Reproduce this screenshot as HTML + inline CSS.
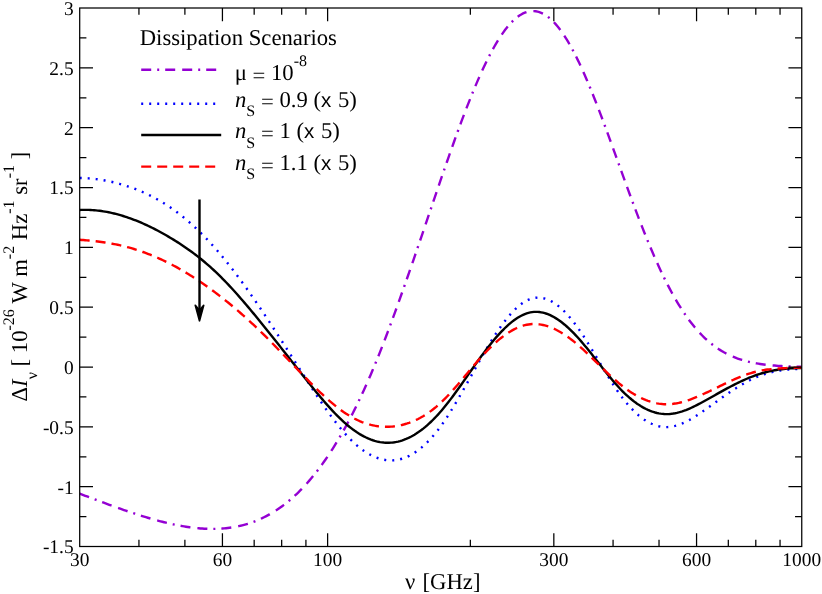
<!DOCTYPE html>
<html><head><meta charset="utf-8">
<style>
html,body{margin:0;padding:0;background:#fff;}
svg{display:block;will-change:transform;text-rendering:geometricPrecision;font-family:"Liberation Serif",serif;}
.tk text{font-size:19.4px;fill:#000;}
.lb{font-size:22.7px;fill:#000;}
.sans{font-family:"Liberation Sans",sans-serif;}
</style></head><body>
<svg width="822" height="594" viewBox="0 0 822 594">
<rect width="822" height="594" fill="#fff"/>
<defs><clipPath id="c"><rect x="79.7" y="8.0" width="722.05" height="538.5"/></clipPath></defs>
<g clip-path="url(#c)" fill="none" stroke-width="2.4">
<path d="M79.70,493.67 L81.56,494.37 L83.41,495.08 L85.27,495.79 L87.12,496.49 L88.97,497.19 L90.82,497.89 L92.67,498.59 L94.52,499.29 L96.37,499.98 L98.21,500.67 L100.06,501.36 L101.90,502.05 L103.74,502.73 L105.59,503.42 L107.43,504.09 L109.27,504.77 L111.11,505.44 L112.94,506.10 L114.78,506.77 L116.62,507.42 L118.45,508.08 L120.29,508.73 L122.12,509.37 L123.96,510.01 L125.79,510.64 L127.62,511.27 L129.45,511.89 L131.28,512.51 L133.11,513.12 L134.94,513.72 L136.77,514.32 L138.60,514.90 L140.43,515.49 L142.25,516.06 L144.08,516.63 L145.91,517.18 L147.73,517.73 L149.56,518.27 L151.38,518.80 L153.21,519.33 L155.03,519.84 L156.85,520.34 L158.68,520.83 L160.50,521.31 L162.32,521.78 L164.14,522.24 L165.97,522.69 L167.79,523.12 L169.61,523.55 L171.43,523.96 L173.25,524.35 L175.07,524.74 L176.89,525.10 L178.71,525.46 L180.53,525.80 L182.34,526.12 L184.16,526.43 L185.98,526.73 L187.80,527.00 L189.62,527.26 L191.43,527.50 L193.25,527.73 L195.07,527.94 L196.89,528.13 L198.70,528.29 L200.52,528.44 L202.33,528.57 L204.15,528.68 L205.97,528.77 L207.78,528.84 L209.60,528.88 L211.41,528.90 L213.23,528.90 L215.04,528.88 L216.86,528.83 L218.67,528.76 L220.49,528.66 L222.30,528.54 L224.11,528.39 L225.93,528.21 L227.74,528.01 L229.56,527.78 L231.37,527.52 L233.18,527.23 L235.00,526.91 L236.81,526.56 L238.62,526.18 L240.44,525.77 L242.25,525.32 L244.06,524.85 L245.88,524.34 L247.69,523.80 L249.50,523.22 L251.31,522.61 L253.13,521.96 L254.94,521.27 L256.75,520.55 L258.56,519.79 L260.37,518.99 L262.19,518.16 L264.00,517.28 L265.81,516.37 L267.62,515.41 L269.43,514.41 L271.25,513.37 L273.06,512.29 L274.87,511.16 L276.68,509.99 L278.49,508.77 L280.30,507.51 L282.11,506.20 L283.93,504.85 L285.74,503.45 L287.55,502.00 L289.36,500.50 L291.17,498.96 L292.98,497.36 L294.79,495.71 L296.60,494.02 L298.41,492.27 L300.22,490.47 L302.04,488.61 L303.85,486.71 L305.66,484.75 L307.47,482.73 L309.28,480.66 L311.09,478.53 L312.90,476.35 L314.71,474.12 L316.52,471.82 L318.33,469.47 L320.14,467.06 L321.95,464.59 L323.76,462.07 L325.57,459.48 L327.37,456.84 L329.18,454.13 L330.99,451.37 L332.80,448.54 L334.61,445.66 L336.41,442.71 L338.22,439.71 L340.03,436.64 L341.83,433.51 L343.64,430.32 L345.44,427.07 L347.24,423.76 L349.04,420.38 L350.84,416.95 L352.64,413.45 L354.44,409.90 L356.23,406.28 L358.02,402.60 L359.82,398.86 L361.60,395.06 L363.39,391.19 L365.17,387.27 L366.95,383.29 L368.72,379.26 L370.49,375.16 L372.26,371.01 L374.03,366.80 L375.79,362.53 L377.55,358.20 L379.30,353.83 L381.06,349.40 L382.81,344.91 L384.56,340.37 L386.31,335.79 L388.06,331.15 L389.81,326.46 L391.56,321.73 L393.32,316.95 L395.07,312.13 L396.83,307.26 L398.60,302.35 L400.36,297.40 L402.13,292.41 L403.91,287.39 L405.68,282.33 L407.46,277.23 L409.25,272.11 L411.03,266.96 L412.82,261.78 L414.61,256.57 L416.40,251.34 L418.20,246.09 L420.00,240.83 L421.80,235.55 L423.60,230.25 L425.40,224.94 L427.20,219.63 L429.00,214.31 L430.81,208.99 L432.61,203.67 L434.42,198.35 L436.22,193.04 L438.03,187.74 L439.84,182.45 L441.64,177.18 L443.45,171.93 L445.26,166.70 L447.07,161.49 L448.88,156.32 L450.68,151.17 L452.49,146.06 L454.30,141.00 L456.11,135.97 L457.92,131.00 L459.73,126.07 L461.54,121.20 L463.35,116.38 L465.16,111.63 L466.97,106.94 L468.78,102.32 L470.59,97.77 L472.39,93.30 L474.20,88.91 L476.01,84.61 L477.82,80.39 L479.63,76.26 L481.44,72.23 L483.25,68.30 L485.06,64.47 L486.87,60.75 L488.68,57.13 L490.49,53.63 L492.30,50.25 L494.11,46.98 L495.92,43.84 L497.73,40.83 L499.54,37.94 L501.35,35.19 L503.16,32.57 L504.97,30.09 L506.78,27.75 L508.59,25.56 L510.40,23.51 L512.21,21.61 L514.02,19.86 L515.83,18.27 L517.64,16.83 L519.44,15.54 L521.25,14.42 L523.06,13.45 L524.87,12.65 L526.68,12.01 L528.49,11.53 L530.30,11.22 L532.11,11.07 L533.92,11.09 L535.73,11.28 L537.54,11.63 L539.35,12.14 L541.16,12.83 L542.97,13.67 L544.78,14.69 L546.59,15.86 L548.40,17.20 L550.21,18.70 L552.02,20.36 L553.83,22.18 L555.64,24.15 L557.45,26.28 L559.26,28.56 L561.07,30.99 L562.88,33.57 L564.69,36.29 L566.50,39.15 L568.31,42.15 L570.11,45.29 L571.92,48.55 L573.73,51.94 L575.54,55.46 L577.35,59.09 L579.16,62.84 L580.97,66.70 L582.78,70.67 L584.59,74.74 L586.40,78.90 L588.21,83.16 L590.02,87.50 L591.83,91.93 L593.64,96.43 L595.45,101.01 L597.26,105.65 L599.07,110.35 L600.88,115.11 L602.69,119.92 L604.50,124.77 L606.31,129.67 L608.12,134.60 L609.93,139.56 L611.74,144.54 L613.55,149.54 L615.36,154.55 L617.17,159.57 L618.98,164.59 L620.79,169.61 L622.59,174.63 L624.40,179.63 L626.21,184.61 L628.02,189.57 L629.83,194.50 L631.64,199.41 L633.45,204.27 L635.26,209.10 L637.07,213.88 L638.88,218.61 L640.69,223.29 L642.50,227.92 L644.31,232.48 L646.12,236.98 L647.93,241.42 L649.74,245.79 L651.55,250.08 L653.36,254.30 L655.17,258.45 L656.98,262.51 L658.79,266.49 L660.60,270.39 L662.41,274.21 L664.22,277.94 L666.03,281.58 L667.84,285.13 L669.65,288.60 L671.46,291.97 L673.26,295.25 L675.07,298.44 L676.88,301.54 L678.69,304.55 L680.50,307.46 L682.31,310.29 L684.12,313.02 L685.93,315.66 L687.74,318.21 L689.55,320.67 L691.36,323.04 L693.17,325.33 L694.98,327.53 L696.79,329.64 L698.60,331.68 L700.41,333.62 L702.22,335.49 L704.03,337.28 L705.84,339.00 L707.65,340.63 L709.46,342.20 L711.27,343.69 L713.08,345.11 L714.89,346.46 L716.70,347.75 L718.51,348.97 L720.32,350.13 L722.13,351.23 L723.94,352.28 L725.74,353.26 L727.55,354.20 L729.36,355.08 L731.17,355.91 L732.98,356.69 L734.79,357.43 L736.60,358.13 L738.41,358.78 L740.22,359.39 L742.03,359.96 L743.84,360.50 L745.65,361.00 L747.46,361.47 L749.27,361.91 L751.08,362.32 L752.89,362.70 L754.70,363.05 L756.51,363.38 L758.32,363.69 L760.13,363.97 L761.94,364.23 L763.75,364.47 L765.56,364.70 L767.37,364.90 L769.18,365.09 L770.99,365.27 L772.80,365.43 L774.61,365.57 L776.41,365.71 L778.22,365.83 L780.03,365.95 L781.84,366.05 L783.65,366.14 L785.46,366.23 L787.27,366.31 L789.08,366.38 L790.89,366.44 L792.70,366.50 L794.51,366.55 L796.32,366.60 L798.13,366.65 L799.94,366.68 L801.75,366.72" stroke="#9400d3" stroke-dasharray="10 6 2 6 10 7"/>
<path d="M79.70,178.03 L81.51,178.05 L83.32,178.10 L85.13,178.17 L86.94,178.27 L88.75,178.38 L90.56,178.53 L92.37,178.69 L94.18,178.88 L95.99,179.09 L97.80,179.32 L99.61,179.57 L101.42,179.85 L103.23,180.15 L105.04,180.47 L106.84,180.82 L108.65,181.18 L110.46,181.57 L112.27,181.98 L114.08,182.41 L115.89,182.87 L117.70,183.34 L119.51,183.83 L121.32,184.35 L123.13,184.89 L124.94,185.44 L126.75,186.02 L128.56,186.62 L130.37,187.24 L132.18,187.88 L133.99,188.55 L135.80,189.24 L137.61,189.95 L139.42,190.68 L141.23,191.44 L143.04,192.23 L144.85,193.04 L146.66,193.88 L148.47,194.74 L150.28,195.63 L152.09,196.55 L153.90,197.49 L155.71,198.47 L157.51,199.47 L159.32,200.50 L161.13,201.56 L162.94,202.65 L164.75,203.78 L166.56,204.93 L168.37,206.12 L170.18,207.33 L171.99,208.58 L173.80,209.87 L175.61,211.18 L177.42,212.53 L179.23,213.91 L181.04,215.33 L182.85,216.78 L184.66,218.26 L186.47,219.77 L188.28,221.32 L190.09,222.89 L191.90,224.51 L193.71,226.15 L195.52,227.83 L197.33,229.54 L199.14,231.29 L200.95,233.07 L202.76,234.88 L204.57,236.73 L206.38,238.61 L208.19,240.52 L209.99,242.46 L211.80,244.44 L213.61,246.46 L215.42,248.50 L217.23,250.58 L219.04,252.70 L220.85,254.84 L222.66,257.02 L224.47,259.23 L226.28,261.47 L228.09,263.74 L229.90,266.03 L231.71,268.36 L233.52,270.71 L235.33,273.09 L237.14,275.49 L238.95,277.92 L240.76,280.38 L242.57,282.85 L244.38,285.36 L246.19,287.88 L248.00,290.43 L249.81,293.00 L251.62,295.58 L253.43,298.19 L255.24,300.82 L257.05,303.46 L258.86,306.13 L260.66,308.81 L262.47,311.51 L264.28,314.22 L266.09,316.95 L267.90,319.69 L269.71,322.44 L271.52,325.21 L273.33,327.98 L275.14,330.77 L276.95,333.57 L278.76,336.37 L280.57,339.18 L282.38,342.00 L284.19,344.82 L286.00,347.65 L287.81,350.49 L289.62,353.32 L291.43,356.16 L293.24,359.00 L295.05,361.84 L296.86,364.67 L298.67,367.51 L300.48,370.35 L302.29,373.18 L304.10,376.00 L305.91,378.83 L307.72,381.64 L309.53,384.45 L311.34,387.24 L313.14,390.02 L314.95,392.78 L316.76,395.52 L318.57,398.24 L320.38,400.93 L322.19,403.60 L324.00,406.23 L325.81,408.83 L327.62,411.39 L329.43,413.91 L331.24,416.39 L333.05,418.82 L334.86,421.21 L336.67,423.55 L338.48,425.83 L340.29,428.05 L342.10,430.22 L343.91,432.33 L345.72,434.37 L347.53,436.34 L349.34,438.25 L351.15,440.08 L352.96,441.84 L354.77,443.52 L356.58,445.12 L358.39,446.65 L360.20,448.11 L362.01,449.48 L363.81,450.78 L365.62,451.99 L367.43,453.13 L369.24,454.19 L371.05,455.16 L372.86,456.06 L374.67,456.87 L376.48,457.60 L378.29,458.25 L380.10,458.81 L381.91,459.29 L383.72,459.68 L385.53,459.99 L387.34,460.21 L389.15,460.34 L390.96,460.38 L392.77,460.34 L394.58,460.21 L396.39,459.99 L398.20,459.67 L400.01,459.27 L401.82,458.78 L403.63,458.19 L405.44,457.52 L407.25,456.76 L409.06,455.90 L410.87,454.96 L412.68,453.92 L414.49,452.80 L416.29,451.58 L418.10,450.27 L419.91,448.88 L421.72,447.39 L423.53,445.81 L425.34,444.14 L427.15,442.38 L428.96,440.53 L430.77,438.58 L432.58,436.55 L434.39,434.43 L436.20,432.21 L438.01,429.90 L439.82,427.50 L441.63,425.01 L443.44,422.44 L445.25,419.78 L447.06,417.04 L448.87,414.23 L450.68,411.35 L452.49,408.41 L454.30,405.42 L456.11,402.37 L457.92,399.28 L459.73,396.15 L461.54,392.99 L463.35,389.80 L465.16,386.59 L466.96,383.36 L468.77,380.11 L470.58,376.86 L472.39,373.61 L474.20,370.37 L476.01,367.13 L477.82,363.91 L479.63,360.71 L481.44,357.54 L483.25,354.39 L485.06,351.29 L486.87,348.23 L488.68,345.21 L490.49,342.25 L492.30,339.34 L494.11,336.50 L495.92,333.72 L497.73,331.01 L499.54,328.37 L501.35,325.81 L503.16,323.33 L504.97,320.94 L506.78,318.64 L508.59,316.44 L510.40,314.33 L512.21,312.33 L514.02,310.44 L515.83,308.66 L517.64,307.00 L519.44,305.46 L521.25,304.04 L523.06,302.76 L524.87,301.60 L526.68,300.59 L528.49,299.72 L530.30,299.00 L532.11,298.43 L533.92,298.01 L535.73,297.74 L537.54,297.62 L539.35,297.64 L541.16,297.80 L542.97,298.11 L544.78,298.55 L546.59,299.12 L548.40,299.83 L550.21,300.66 L552.02,301.63 L553.83,302.72 L555.64,303.93 L557.45,305.26 L559.26,306.70 L561.07,308.27 L562.88,309.94 L564.69,311.72 L566.50,313.62 L568.31,315.61 L570.11,317.71 L571.92,319.91 L573.73,322.21 L575.54,324.60 L577.35,327.08 L579.16,329.65 L580.97,332.30 L582.78,335.03 L584.59,337.81 L586.40,340.66 L588.21,343.55 L590.02,346.48 L591.83,349.45 L593.64,352.45 L595.45,355.47 L597.26,358.50 L599.07,361.53 L600.88,364.56 L602.69,367.58 L604.50,370.59 L606.31,373.57 L608.12,376.51 L609.93,379.42 L611.74,382.28 L613.55,385.09 L615.36,387.83 L617.17,390.51 L618.98,393.10 L620.79,395.62 L622.59,398.04 L624.40,400.37 L626.21,402.60 L628.02,404.74 L629.83,406.79 L631.64,408.74 L633.45,410.59 L635.26,412.35 L637.07,414.01 L638.88,415.57 L640.69,417.04 L642.50,418.40 L644.31,419.67 L646.12,420.84 L647.93,421.91 L649.74,422.89 L651.55,423.76 L653.36,424.53 L655.17,425.20 L656.98,425.77 L658.79,426.24 L660.60,426.60 L662.41,426.87 L664.22,427.03 L666.03,427.09 L667.84,427.04 L669.65,426.90 L671.46,426.65 L673.26,426.32 L675.07,425.90 L676.88,425.39 L678.69,424.81 L680.50,424.15 L682.31,423.42 L684.12,422.62 L685.93,421.75 L687.74,420.83 L689.55,419.86 L691.36,418.83 L693.17,417.76 L694.98,416.64 L696.79,415.49 L698.60,414.30 L700.41,413.08 L702.22,411.84 L704.03,410.57 L705.84,409.29 L707.65,407.99 L709.46,406.69 L711.27,405.38 L713.08,404.07 L714.89,402.76 L716.70,401.45 L718.51,400.14 L720.32,398.85 L722.13,397.56 L723.94,396.28 L725.74,395.01 L727.55,393.76 L729.36,392.53 L731.17,391.31 L732.98,390.11 L734.79,388.93 L736.60,387.77 L738.41,386.64 L740.22,385.54 L742.03,384.46 L743.84,383.41 L745.65,382.40 L747.46,381.42 L749.27,380.48 L751.08,379.57 L752.89,378.70 L754.70,377.87 L756.51,377.09 L758.32,376.35 L760.13,375.65 L761.94,375.00 L763.75,374.39 L765.56,373.82 L767.37,373.28 L769.18,372.79 L770.99,372.33 L772.80,371.90 L774.61,371.51 L776.41,371.15 L778.22,370.83 L780.03,370.53 L781.84,370.26 L783.65,370.02 L785.46,369.81 L787.27,369.62 L789.08,369.45 L790.89,369.31 L792.70,369.19 L794.51,369.09 L796.32,369.01 L798.13,368.94 L799.94,368.89 L801.75,368.86" stroke="#0000ff" stroke-dasharray="2 6"/>
<path d="M79.70,209.99 L81.51,209.92 L83.32,209.87 L85.13,209.86 L86.94,209.88 L88.75,209.92 L90.56,210.00 L92.37,210.10 L94.18,210.23 L95.99,210.39 L97.80,210.58 L99.61,210.80 L101.42,211.05 L103.23,211.32 L105.04,211.62 L106.84,211.94 L108.65,212.29 L110.46,212.67 L112.27,213.07 L114.08,213.50 L115.89,213.95 L117.70,214.43 L119.51,214.93 L121.32,215.45 L123.13,216.00 L124.94,216.57 L126.75,217.16 L128.56,217.78 L130.37,218.42 L132.18,219.08 L133.99,219.76 L135.80,220.47 L137.61,221.20 L139.42,221.94 L141.23,222.71 L143.04,223.50 L144.85,224.31 L146.66,225.14 L148.47,225.99 L150.28,226.86 L152.09,227.75 L153.90,228.66 L155.71,229.58 L157.51,230.53 L159.32,231.49 L161.13,232.48 L162.94,233.48 L164.75,234.50 L166.56,235.54 L168.37,236.59 L170.18,237.66 L171.99,238.75 L173.80,239.86 L175.61,240.98 L177.42,242.12 L179.23,243.29 L181.04,244.47 L182.85,245.68 L184.66,246.90 L186.47,248.15 L188.28,249.42 L190.09,250.72 L191.90,252.04 L193.71,253.38 L195.52,254.75 L197.33,256.15 L199.14,257.57 L200.95,259.02 L202.76,260.50 L204.57,262.01 L206.38,263.55 L208.19,265.11 L209.99,266.71 L211.80,268.34 L213.61,270.00 L215.42,271.70 L217.23,273.42 L219.04,275.18 L220.85,276.97 L222.66,278.79 L224.47,280.64 L226.28,282.52 L228.09,284.42 L229.90,286.35 L231.71,288.31 L233.52,290.29 L235.33,292.29 L237.14,294.32 L238.95,296.36 L240.76,298.43 L242.57,300.52 L244.38,302.62 L246.19,304.74 L248.00,306.88 L249.81,309.04 L251.62,311.20 L253.43,313.38 L255.24,315.58 L257.05,317.78 L258.86,320.00 L260.66,322.22 L262.47,324.45 L264.28,326.69 L266.09,328.94 L267.90,331.20 L269.71,333.46 L271.52,335.73 L273.33,338.00 L275.14,340.28 L276.95,342.56 L278.76,344.84 L280.57,347.13 L282.38,349.42 L284.19,351.72 L286.00,354.01 L287.81,356.31 L289.62,358.60 L291.43,360.90 L293.24,363.19 L295.05,365.49 L296.86,367.78 L298.67,370.07 L300.48,372.36 L302.29,374.64 L304.10,376.92 L305.91,379.19 L307.72,381.46 L309.53,383.73 L311.34,385.98 L313.14,388.22 L314.95,390.44 L316.76,392.65 L318.57,394.84 L320.38,397.00 L322.19,399.14 L324.00,401.26 L325.81,403.34 L327.62,405.39 L329.43,407.41 L331.24,409.40 L333.05,411.34 L334.86,413.25 L336.67,415.11 L338.48,416.93 L340.29,418.69 L342.10,420.41 L343.91,422.08 L345.72,423.69 L347.53,425.24 L349.34,426.74 L351.15,428.17 L352.96,429.54 L354.77,430.84 L356.58,432.08 L358.39,433.25 L360.20,434.36 L362.01,435.40 L363.81,436.38 L365.62,437.29 L367.43,438.13 L369.24,438.90 L371.05,439.61 L372.86,440.24 L374.67,440.80 L376.48,441.30 L378.29,441.72 L380.10,442.07 L381.91,442.35 L383.72,442.56 L385.53,442.70 L387.34,442.76 L389.15,442.75 L390.96,442.66 L392.77,442.50 L394.58,442.26 L396.39,441.94 L398.20,441.56 L400.01,441.09 L401.82,440.55 L403.63,439.93 L405.44,439.24 L407.25,438.48 L409.06,437.64 L410.87,436.73 L412.68,435.75 L414.49,434.69 L416.29,433.56 L418.10,432.36 L419.91,431.09 L421.72,429.75 L423.53,428.34 L425.34,426.86 L427.15,425.31 L428.96,423.69 L430.77,422.00 L432.58,420.24 L434.39,418.42 L436.20,416.53 L438.01,414.57 L439.82,412.54 L441.63,410.45 L443.44,408.30 L445.25,406.08 L447.06,403.81 L448.87,401.50 L450.68,399.13 L452.49,396.72 L454.30,394.28 L456.11,391.80 L457.92,389.29 L459.73,386.76 L461.54,384.21 L463.35,381.64 L465.16,379.06 L466.96,376.47 L468.77,373.88 L470.58,371.30 L472.39,368.71 L474.20,366.14 L476.01,363.59 L477.82,361.05 L479.63,358.54 L481.44,356.05 L483.25,353.60 L485.06,351.18 L486.87,348.80 L488.68,346.47 L490.49,344.18 L492.30,341.95 L494.11,339.77 L495.92,337.65 L497.73,335.59 L499.54,333.59 L501.35,331.66 L503.16,329.80 L504.97,328.01 L506.78,326.29 L508.59,324.66 L510.40,323.11 L512.21,321.65 L514.02,320.27 L515.83,318.99 L517.64,317.80 L519.44,316.71 L521.25,315.72 L523.06,314.84 L524.87,314.07 L526.68,313.40 L528.49,312.85 L530.30,312.42 L532.11,312.11 L533.92,311.92 L535.73,311.84 L537.54,311.89 L539.35,312.04 L541.16,312.31 L542.97,312.68 L544.78,313.16 L546.59,313.74 L548.40,314.43 L550.21,315.21 L552.02,316.09 L553.83,317.06 L555.64,318.12 L557.45,319.27 L559.26,320.51 L561.07,321.83 L562.88,323.23 L564.69,324.71 L566.50,326.26 L568.31,327.89 L570.11,329.59 L571.92,331.36 L573.73,333.19 L575.54,335.09 L577.35,337.05 L579.16,339.07 L580.97,341.14 L582.78,343.25 L584.59,345.41 L586.40,347.60 L588.21,349.83 L590.02,352.08 L591.83,354.36 L593.64,356.64 L595.45,358.95 L597.26,361.25 L599.07,363.56 L600.88,365.86 L602.69,368.15 L604.50,370.43 L606.31,372.69 L608.12,374.93 L609.93,377.13 L611.74,379.30 L613.55,381.43 L615.36,383.52 L617.17,385.55 L618.98,387.53 L620.79,389.45 L622.59,391.30 L624.40,393.09 L626.21,394.80 L628.02,396.45 L629.83,398.03 L631.64,399.54 L633.45,400.98 L635.26,402.35 L637.07,403.64 L638.88,404.87 L640.69,406.02 L642.50,407.10 L644.31,408.10 L646.12,409.02 L647.93,409.88 L649.74,410.65 L651.55,411.35 L653.36,411.97 L655.17,412.52 L656.98,412.98 L658.79,413.36 L660.60,413.67 L662.41,413.89 L664.22,414.04 L666.03,414.10 L667.84,414.08 L669.65,413.97 L671.46,413.80 L673.26,413.54 L675.07,413.22 L676.88,412.84 L678.69,412.38 L680.50,411.87 L682.31,411.30 L684.12,410.68 L685.93,410.01 L687.74,409.29 L689.55,408.53 L691.36,407.73 L693.17,406.89 L694.98,406.02 L696.79,405.12 L698.60,404.19 L700.41,403.24 L702.22,402.27 L704.03,401.28 L705.84,400.28 L707.65,399.26 L709.46,398.24 L711.27,397.22 L713.08,396.20 L714.89,395.18 L716.70,394.16 L718.51,393.15 L720.32,392.14 L722.13,391.13 L723.94,390.14 L725.74,389.15 L727.55,388.18 L729.36,387.21 L731.17,386.26 L732.98,385.32 L734.79,384.40 L736.60,383.50 L738.41,382.61 L740.22,381.74 L742.03,380.89 L743.84,380.07 L745.65,379.26 L747.46,378.48 L749.27,377.73 L751.08,377.00 L752.89,376.31 L754.70,375.64 L756.51,375.00 L758.32,374.39 L760.13,373.82 L761.94,373.27 L763.75,372.76 L765.56,372.27 L767.37,371.82 L769.18,371.39 L770.99,371.00 L772.80,370.63 L774.61,370.29 L776.41,369.98 L778.22,369.69 L780.03,369.43 L781.84,369.19 L783.65,368.98 L785.46,368.80 L787.27,368.64 L789.08,368.50 L790.89,368.39 L792.70,368.30 L794.51,368.23 L796.32,368.18 L798.13,368.15 L799.94,368.15 L801.75,368.17" stroke="#000"/>
<path d="M79.70,239.81 L81.51,239.94 L83.32,240.07 L85.13,240.21 L86.94,240.36 L88.75,240.52 L90.56,240.69 L92.37,240.88 L94.18,241.07 L95.99,241.28 L97.80,241.49 L99.61,241.73 L101.42,241.97 L103.23,242.22 L105.04,242.49 L106.84,242.78 L108.65,243.08 L110.46,243.39 L112.27,243.72 L114.08,244.07 L115.89,244.43 L117.70,244.80 L119.51,245.20 L121.32,245.61 L123.13,246.04 L124.94,246.49 L126.75,246.96 L128.56,247.44 L130.37,247.94 L132.18,248.47 L133.99,249.01 L135.80,249.57 L137.61,250.15 L139.42,250.75 L141.23,251.36 L143.04,252.00 L144.85,252.65 L146.66,253.32 L148.47,254.02 L150.28,254.73 L152.09,255.46 L153.90,256.21 L155.71,256.97 L157.51,257.76 L159.32,258.57 L161.13,259.39 L162.94,260.23 L164.75,261.10 L166.56,261.98 L168.37,262.88 L170.18,263.80 L171.99,264.74 L173.80,265.70 L175.61,266.67 L177.42,267.67 L179.23,268.68 L181.04,269.72 L182.85,270.77 L184.66,271.84 L186.47,272.92 L188.28,274.03 L190.09,275.15 L191.90,276.29 L193.71,277.45 L195.52,278.62 L197.33,279.81 L199.14,281.02 L200.95,282.25 L202.76,283.49 L204.57,284.75 L206.38,286.02 L208.19,287.31 L209.99,288.62 L211.80,289.94 L213.61,291.28 L215.42,292.64 L217.23,294.01 L219.04,295.39 L220.85,296.79 L222.66,298.21 L224.47,299.64 L226.28,301.09 L228.09,302.55 L229.90,304.03 L231.71,305.52 L233.52,307.03 L235.33,308.56 L237.14,310.10 L238.95,311.66 L240.76,313.24 L242.57,314.83 L244.38,316.43 L246.19,318.05 L248.00,319.69 L249.81,321.35 L251.62,323.02 L253.43,324.70 L255.24,326.41 L257.05,328.13 L258.86,329.86 L260.66,331.62 L262.47,333.38 L264.28,335.17 L266.09,336.96 L267.90,338.77 L269.71,340.60 L271.52,342.43 L273.33,344.28 L275.14,346.13 L276.95,347.99 L278.76,349.86 L280.57,351.74 L282.38,353.62 L284.19,355.50 L286.00,357.39 L287.81,359.28 L289.62,361.17 L291.43,363.07 L293.24,364.96 L295.05,366.85 L296.86,368.74 L298.67,370.62 L300.48,372.50 L302.29,374.37 L304.10,376.24 L305.91,378.10 L307.72,379.95 L309.53,381.79 L311.34,383.62 L313.14,385.44 L314.95,387.23 L316.76,389.01 L318.57,390.77 L320.38,392.51 L322.19,394.22 L324.00,395.91 L325.81,397.57 L327.62,399.20 L329.43,400.79 L331.24,402.36 L333.05,403.88 L334.86,405.37 L336.67,406.83 L338.48,408.24 L340.29,409.60 L342.10,410.92 L343.91,412.20 L345.72,413.42 L347.53,414.60 L349.34,415.72 L351.15,416.79 L352.96,417.80 L354.77,418.76 L356.58,419.66 L358.39,420.50 L360.20,421.30 L362.01,422.03 L363.81,422.71 L365.62,423.34 L367.43,423.92 L369.24,424.44 L371.05,424.91 L372.86,425.32 L374.67,425.69 L376.48,426.00 L378.29,426.26 L380.10,426.46 L381.91,426.62 L383.72,426.72 L385.53,426.77 L387.34,426.77 L389.15,426.72 L390.96,426.63 L392.77,426.48 L394.58,426.28 L396.39,426.03 L398.20,425.73 L400.01,425.38 L401.82,424.98 L403.63,424.53 L405.44,424.02 L407.25,423.47 L409.06,422.86 L410.87,422.19 L412.68,421.47 L414.49,420.70 L416.29,419.86 L418.10,418.98 L419.91,418.03 L421.72,417.02 L423.53,415.96 L425.34,414.84 L427.15,413.65 L428.96,412.41 L430.77,411.10 L432.58,409.73 L434.39,408.30 L436.20,406.81 L438.01,405.25 L439.82,403.62 L441.63,401.93 L443.44,400.18 L445.25,398.36 L447.06,396.50 L448.87,394.58 L450.68,392.62 L452.49,390.62 L454.30,388.58 L456.11,386.51 L457.92,384.41 L459.73,382.29 L461.54,380.15 L463.35,378.01 L465.16,375.85 L466.96,373.69 L468.77,371.53 L470.58,369.37 L472.39,367.22 L474.20,365.09 L476.01,362.98 L477.82,360.90 L479.63,358.84 L481.44,356.81 L483.25,354.82 L485.06,352.88 L486.87,350.98 L488.68,349.13 L490.49,347.34 L492.30,345.59 L494.11,343.90 L495.92,342.27 L497.73,340.70 L499.54,339.18 L501.35,337.73 L503.16,336.34 L504.97,335.02 L506.78,333.76 L508.59,332.57 L510.40,331.45 L512.21,330.40 L514.02,329.42 L515.83,328.52 L517.64,327.70 L519.44,326.95 L521.25,326.29 L523.06,325.70 L524.87,325.20 L526.68,324.79 L528.49,324.46 L530.30,324.21 L532.11,324.06 L533.92,324.00 L535.73,324.02 L537.54,324.13 L539.35,324.33 L541.16,324.60 L542.97,324.96 L544.78,325.39 L546.59,325.90 L548.40,326.48 L550.21,327.14 L552.02,327.87 L553.83,328.66 L555.64,329.53 L557.45,330.45 L559.26,331.45 L561.07,332.50 L562.88,333.61 L564.69,334.78 L566.50,336.00 L568.31,337.28 L570.11,338.62 L571.92,340.00 L573.73,341.43 L575.54,342.90 L577.35,344.42 L579.16,345.99 L580.97,347.59 L582.78,349.22 L584.59,350.89 L586.40,352.58 L588.21,354.29 L590.02,356.03 L591.83,357.77 L593.64,359.53 L595.45,361.30 L597.26,363.07 L599.07,364.85 L600.88,366.61 L602.69,368.38 L604.50,370.13 L606.31,371.86 L608.12,373.58 L609.93,375.28 L611.74,376.95 L613.55,378.59 L615.36,380.20 L617.17,381.77 L618.98,383.30 L620.79,384.78 L622.59,386.22 L624.40,387.61 L626.21,388.95 L628.02,390.23 L629.83,391.47 L631.64,392.65 L633.45,393.78 L635.26,394.85 L637.07,395.87 L638.88,396.84 L640.69,397.75 L642.50,398.60 L644.31,399.40 L646.12,400.14 L647.93,400.82 L649.74,401.44 L651.55,402.00 L653.36,402.50 L655.17,402.93 L656.98,403.31 L658.79,403.62 L660.60,403.87 L662.41,404.06 L664.22,404.18 L666.03,404.23 L667.84,404.22 L669.65,404.15 L671.46,404.01 L673.26,403.81 L675.07,403.56 L676.88,403.25 L678.69,402.89 L680.50,402.48 L682.31,402.03 L684.12,401.53 L685.93,400.98 L687.74,400.40 L689.55,399.78 L691.36,399.12 L693.17,398.44 L694.98,397.72 L696.79,396.98 L698.60,396.21 L700.41,395.42 L702.22,394.61 L704.03,393.78 L705.84,392.94 L707.65,392.08 L709.46,391.22 L711.27,390.34 L713.08,389.47 L714.89,388.58 L716.70,387.70 L718.51,386.82 L720.32,385.94 L722.13,385.06 L723.94,384.19 L725.74,383.33 L727.55,382.48 L729.36,381.64 L731.17,380.81 L732.98,379.99 L734.79,379.20 L736.60,378.42 L738.41,377.66 L740.22,376.92 L742.03,376.21 L743.84,375.52 L745.65,374.86 L747.46,374.22 L749.27,373.62 L751.08,373.05 L752.89,372.52 L754.70,372.02 L756.51,371.56 L758.32,371.14 L760.13,370.76 L761.94,370.41 L763.75,370.09 L765.56,369.81 L767.37,369.56 L769.18,369.33 L770.99,369.13 L772.80,368.95 L774.61,368.79 L776.41,368.65 L778.22,368.53 L780.03,368.42 L781.84,368.32 L783.65,368.23 L785.46,368.15 L787.27,368.07 L789.08,368.00 L790.89,367.93 L792.70,367.85 L794.51,367.78 L796.32,367.69 L798.13,367.60 L799.94,367.50 L801.75,367.39" stroke="#ff0000" stroke-dasharray="10 6"/>
</g>
<g stroke="#000" stroke-width="1.25" fill="none">
<rect x="79.7" y="8.0" width="722.05" height="538.5"/>
<path d="M222.43,546.5 v-13.3 M222.43,8.0 v13.3"/>
<path d="M327.62,546.5 v-13.3 M327.62,8.0 v13.3"/>
<path d="M553.83,546.5 v-13.3 M553.83,8.0 v13.3"/>
<path d="M696.56,546.5 v-13.3 M696.56,8.0 v13.3"/>
<path d="M138.94,546.5 v-6.7 M138.94,8.0 v6.7"/>
<path d="M184.89,546.5 v-6.7 M184.89,8.0 v6.7"/>
<path d="M254.17,546.5 v-6.7 M254.17,8.0 v6.7"/>
<path d="M281.67,546.5 v-6.7 M281.67,8.0 v6.7"/>
<path d="M305.92,546.5 v-6.7 M305.92,8.0 v6.7"/>
<path d="M470.34,546.5 v-6.7 M470.34,8.0 v6.7"/>
<path d="M613.07,546.5 v-6.7 M613.07,8.0 v6.7"/>
<path d="M659.02,546.5 v-6.7 M659.02,8.0 v6.7"/>
<path d="M728.31,546.5 v-6.7 M728.31,8.0 v6.7"/>
<path d="M755.80,546.5 v-6.7 M755.80,8.0 v6.7"/>
<path d="M780.05,546.5 v-6.7 M780.05,8.0 v6.7"/>
<path d="M79.7,516.58 h6.7 M801.75,516.58 h-6.7"/>
<path d="M79.7,486.67 h13.3 M801.75,486.67 h-13.3"/>
<path d="M79.7,456.75 h6.7 M801.75,456.75 h-6.7"/>
<path d="M79.7,426.83 h13.3 M801.75,426.83 h-13.3"/>
<path d="M79.7,396.92 h6.7 M801.75,396.92 h-6.7"/>
<path d="M79.7,367.00 h13.3 M801.75,367.00 h-13.3"/>
<path d="M79.7,337.08 h6.7 M801.75,337.08 h-6.7"/>
<path d="M79.7,307.17 h13.3 M801.75,307.17 h-13.3"/>
<path d="M79.7,277.25 h6.7 M801.75,277.25 h-6.7"/>
<path d="M79.7,247.33 h13.3 M801.75,247.33 h-13.3"/>
<path d="M79.7,217.42 h6.7 M801.75,217.42 h-6.7"/>
<path d="M79.7,187.50 h13.3 M801.75,187.50 h-13.3"/>
<path d="M79.7,157.58 h6.7 M801.75,157.58 h-6.7"/>
<path d="M79.7,127.67 h13.3 M801.75,127.67 h-13.3"/>
<path d="M79.7,97.75 h6.7 M801.75,97.75 h-6.7"/>
<path d="M79.7,67.83 h13.3 M801.75,67.83 h-13.3"/>
<path d="M79.7,37.92 h6.7 M801.75,37.92 h-6.7"/>
</g>
<g class="tk">
<text x="79.70" y="566.2" text-anchor="middle">30</text>
<text x="222.43" y="566.2" text-anchor="middle">60</text>
<text x="327.62" y="566.2" text-anchor="middle">100</text>
<text x="553.83" y="566.2" text-anchor="middle">300</text>
<text x="696.56" y="566.2" text-anchor="middle">600</text>
<text x="801.75" y="566.2" text-anchor="middle">1000</text>
<text x="73.6" y="553.40" text-anchor="end">-1.5</text>
<text x="73.6" y="493.57" text-anchor="end">-1</text>
<text x="73.6" y="433.73" text-anchor="end">-0.5</text>
<text x="73.6" y="373.90" text-anchor="end">0</text>
<text x="73.6" y="314.07" text-anchor="end">0.5</text>
<text x="73.6" y="254.23" text-anchor="end">1</text>
<text x="73.6" y="194.40" text-anchor="end">1.5</text>
<text x="73.6" y="134.57" text-anchor="end">2</text>
<text x="73.6" y="74.73" text-anchor="end">2.5</text>
<text x="73.6" y="14.90" text-anchor="end">3</text>
</g>
<!-- arrow -->
<path d="M199.5,199.5 V311" stroke="#000" stroke-width="2.4" fill="none"/>
<path d="M199.5,320.8 L195.3,305.3 L199.5,310.2 L203.7,305.3 Z" fill="#000" stroke="#000" stroke-width="1.7" stroke-linejoin="round"/>
<!-- legend -->
<g fill="none" stroke-width="2.4">
<path d="M141.2,69.7 H221.2" stroke="#9400d3" stroke-dasharray="10 6 2 6 10 7"/>
<path d="M141.2,103.8 H221.2" stroke="#0000ff" stroke-dasharray="2 6"/>
<path d="M141.2,135 H221.2" stroke="#000"/>
<path d="M141.2,166.6 H221.2" stroke="#ff0000" stroke-dasharray="10 6"/>
</g>
<g class="lb">
<text x="139.7" y="45">Dissipation Scenarios</text>
<text x="234.7" y="79.7">μ <tspan dy="2.8">=</tspan><tspan dy="-2.8"> 10</tspan><tspan dy="-13.4" font-size="16">-8</tspan></text>
<text x="235" y="106.5"><tspan font-style="italic">n</tspan><tspan dy="9.5" font-size="16">S</tspan><tspan dy="-6.7"> =</tspan><tspan dy="-2.8"> 0.9 (</tspan><tspan class="sans" font-size="20.5">x</tspan><tspan dx="1.1"> 5)</tspan></text>
<text x="235" y="138.2"><tspan font-style="italic">n</tspan><tspan dy="9.5" font-size="16">S</tspan><tspan dy="-6.7"> =</tspan><tspan dy="-2.8"> 1 (</tspan><tspan class="sans" font-size="20.5">x</tspan><tspan dx="1.1"> 5)</tspan></text>
<text x="235" y="169.8"><tspan font-style="italic">n</tspan><tspan dy="9.5" font-size="16">S</tspan><tspan dy="-6.7"> =</tspan><tspan dy="-2.8"> 1.1 (</tspan><tspan class="sans" font-size="20.5">x</tspan><tspan dx="1.1"> 5)</tspan></text>
<text x="405.0" y="588.6">ν<tspan dx="1.6"> [GHz]</tspan></text>
<text transform="translate(27.3,401.5) rotate(-90)">Δ<tspan font-style="italic">I</tspan><tspan dy="9.5" font-size="16">ν</tspan><tspan dy="-9.5"> [ 10</tspan><tspan dy="-13.4" font-size="16">-26</tspan><tspan dy="13.4"> W m</tspan><tspan dy="-13.4" font-size="16">-2</tspan><tspan dy="13.4"> Hz</tspan><tspan dy="-13.4" font-size="16">-1</tspan><tspan dy="13.4"> sr</tspan><tspan dy="-13.4" font-size="16">-1</tspan><tspan dy="13.4"> ]</tspan></text>
</g>
</svg>
</body></html>
